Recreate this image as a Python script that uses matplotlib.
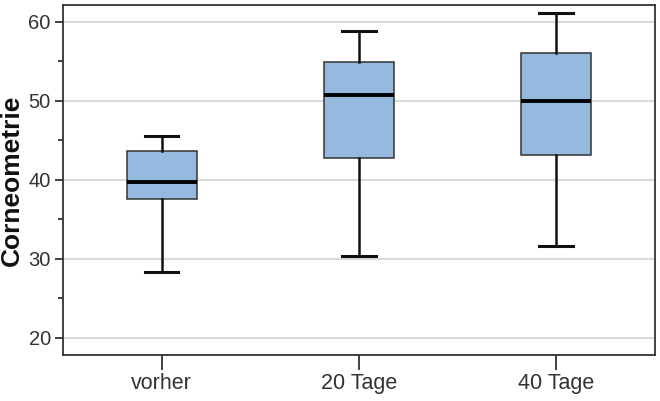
import matplotlib

matplotlib.use("Agg")
import matplotlib.pyplot as plt
from matplotlib.ticker import MultipleLocator

# group labels and box statistics
groups = ["vorher", "20 Tage", "40 Tage"]
whislo = [28.3, 30.3, 31.6]
q1 = [37.6, 42.8, 43.1]
med = [39.7, 50.7, 50.0]
q3 = [43.7, 54.9, 56.1]
whishi = [45.5, 58.8, 61.1]

plt.rcParams["font.family"] = ["Liberation Sans", "DejaVu Sans"]

fig = plt.figure(figsize=(6.6, 4.01), dpi=100)
ax = fig.add_axes([0.0955, 0.1147, 0.8965, 0.874])

stats = [
    {"label": g, "whislo": lo, "q1": a, "med": m, "q3": b, "whishi": hi, "fliers": []}
    for g, lo, a, m, b, hi in zip(groups, whislo, q1, med, q3, whishi)
]
ax.bxp(
    stats,
    positions=[1, 2, 3],
    widths=0.355,
    patch_artist=True,
    boxprops={"facecolor": "#96b9df", "edgecolor": "#333333", "linewidth": 1.1},
    medianprops={"color": "black", "linewidth": 2.8, "solid_capstyle": "butt"},
    whiskerprops={"color": "#111111", "linewidth": 1.8},
    capprops={"color": "#111111", "linewidth": 2.2},
    capwidths=0.17,
    zorder=3,
)

ax.set_xlim(0.5, 3.5)
ax.set_ylim(17.8, 62.2)
ax.yaxis.set_major_locator(MultipleLocator(10))
ax.yaxis.set_minor_locator(MultipleLocator(5))
ax.grid(True, axis="y", which="major", color="#dadada", linewidth=1.5, zorder=0)
ax.set_axisbelow(True)

for side in ax.spines.values():
    side.set_color("#333333")
    side.set_linewidth(1.3)

ax.tick_params(axis="y", which="major", length=5.8, width=1.3, color="#333333",
               labelsize=14.5, labelcolor="#333333", pad=3)
ax.tick_params(axis="y", which="minor", length=3.6, width=1.3, color="#333333")
ax.tick_params(axis="x", which="major", length=11, width=1.3, color="#333333",
               labelsize=15.5, labelcolor="#333333", pad=2)

fig.text(12 / 660, 0.551, "Corneometrie", rotation=90, ha="center", va="center",
         fontsize=19, fontweight="bold", color="#111111")

fig.savefig("out.png", dpi=100)
